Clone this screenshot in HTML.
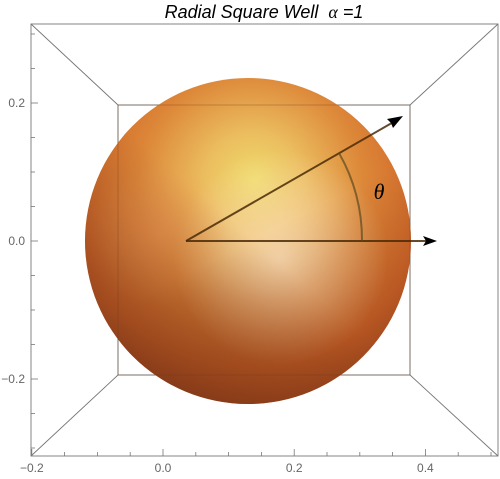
<!DOCTYPE html>
<html><head><meta charset="utf-8"><style>
html,body{margin:0;padding:0;background:#fff;}
svg{display:block;font-family:"Liberation Sans",sans-serif;}
</style></head><body>
<svg id="chart" width="500" height="479" viewBox="0 0 500 479">
<defs>
<radialGradient id="sph" cx="0.5" cy="0.35" r="0.7" fx="0.52" fy="0.31">
<stop offset="0" stop-color="#efdc6a"/>
<stop offset="0.22" stop-color="#ebbc5e"/>
<stop offset="0.5" stop-color="#dc8638"/>
<stop offset="0.78" stop-color="#cf6428"/>
<stop offset="1" stop-color="#a84a20"/>
</radialGradient>
<linearGradient id="dark" x1="0.85" y1="0.15" x2="0.15" y2="0.95">
<stop offset="0.45" stop-color="#5a2410" stop-opacity="0"/>
<stop offset="1" stop-color="#5a2410" stop-opacity="0.5"/>
</linearGradient>
<linearGradient id="dark2" x1="0.5" y1="0.5" x2="0.75" y2="1">
<stop offset="0" stop-color="#6a2c10" stop-opacity="0"/>
<stop offset="1" stop-color="#6a2c10" stop-opacity="0.35"/>
</linearGradient>
<radialGradient id="pale" cx="0.6" cy="0.55" r="0.33">
<stop offset="0" stop-color="#fce4c4" stop-opacity="0.8"/>
<stop offset="1" stop-color="#fce4c4" stop-opacity="0"/>
</radialGradient>
<radialGradient id="orng" cx="0.22" cy="0.48" r="0.22">
<stop offset="0" stop-color="#f49a5a" stop-opacity="0.55"/>
<stop offset="1" stop-color="#f49a5a" stop-opacity="0"/>
</radialGradient>
</defs>
<text x="264" y="18" text-anchor="middle" font-size="18" font-style="italic" fill="#000">Radial Square Well&#160;&#160;<tspan font-family="Liberation Serif, serif">α</tspan>&#160;=1</text>
<g stroke="#777" stroke-width="0.9" fill="none">
<rect x="31" y="24" width="467" height="432"/>
<rect x="118" y="105" width="292" height="270"/>
<line x1="31" y1="24" x2="118" y2="105"/><line x1="498" y1="24" x2="410" y2="105"/>
<line x1="31" y1="456" x2="118" y2="375"/><line x1="498" y1="456" x2="410" y2="375"/>
</g>
<circle cx="248" cy="241" r="163" fill="url(#sph)"/>
<circle cx="248" cy="241" r="163" fill="url(#pale)"/>
<circle cx="248" cy="241" r="163" fill="url(#orng)"/>
<circle cx="248" cy="241" r="163" fill="url(#dark)"/>
<circle cx="248" cy="241" r="163" fill="url(#dark2)"/>
<g stroke="#6a3a20" stroke-opacity="0.35" stroke-width="0.9" fill="none">
<rect x="118" y="105" width="292" height="270"/>
</g>
<g id="axes"></g>
<g>
<line x1="186" y1="241" x2="430" y2="241" stroke="#4a2a08" stroke-opacity="0.85" stroke-width="2"/>
<polygon points="437,241 423,236 426,241 423,246" fill="#000"/>
<line x1="186" y1="241" x2="397" y2="120" stroke="#4a2a08" stroke-opacity="0.85" stroke-width="2"/>
<polygon points="403,116 387,119 391,123 393,128" fill="#000"/>
<path d="M362,241 A176,176 0 0 0 339,153" fill="none" stroke="#5a4a20" stroke-opacity="0.7" stroke-width="2"/>
<text x="379" y="199" font-family="Liberation Serif, serif" font-style="italic" font-size="22" text-anchor="middle" fill="#000">θ</text>
</g>
<script>
const xTicks=[-0.2,0.0,0.2,0.4];
const xTickLabels=["−0.2","0.0","0.2","0.4"];
const yTicks=[0.2,0.0,-0.2];
const yTickLabels=["0.2","0.0","−0.2"];
const minorStep=0.05;
const xs=v=>163+(v/0.1)*65.6;
const ys=v=>241-(v/0.1)*69;
const g=document.getElementById('axes');
const ns='http://www.w3.org/2000/svg';
function ln(x1,y1,x2,y2,w){const l=document.createElementNS(ns,'line');l.setAttribute('x1',x1);l.setAttribute('y1',y1);l.setAttribute('x2',x2);l.setAttribute('y2',y2);l.setAttribute('stroke','#777');l.setAttribute('stroke-width',w);g.appendChild(l);return l;}
for(let v=-0.2;v<=0.52;v+=minorStep){const x=xs(v);if(x>498.5)break;const major=xTicks.some(t=>Math.abs(t-v)<1e-6);
const t=ln(x,456,x,major?449:452,0.8);

}
for(let v=-0.3;v<=0.31;v+=minorStep){const y=ys(v);if(y<24||y>456)continue;const major=yTicks.some(t=>Math.abs(t-v)<1e-6);
const t=ln(31,y,major?38:35,y,0.8);

}
xTicks.forEach((v,i)=>{const t=document.createElementNS(ns,'text');t.setAttribute('x',xs(v));t.setAttribute('y',472);t.setAttribute('text-anchor','middle');t.setAttribute('font-size','12');t.setAttribute('fill','#666');t.textContent=xTickLabels[i];


g.appendChild(t);});
yTicks.forEach((v,i)=>{const t=document.createElementNS(ns,'text');t.setAttribute('x',25);t.setAttribute('y',ys(v)+4);t.setAttribute('text-anchor','end');t.setAttribute('font-size','12');t.setAttribute('fill','#666');t.textContent=yTickLabels[i];


g.appendChild(t);});
</script>
</svg>
</body></html>
